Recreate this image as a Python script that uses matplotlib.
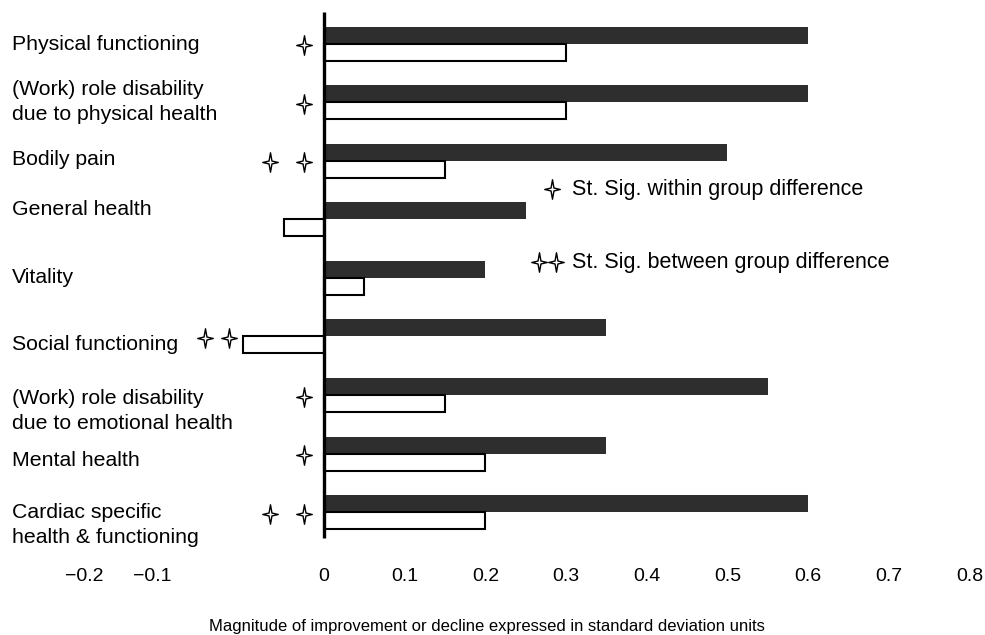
import matplotlib
matplotlib.use('Agg')
import matplotlib.pyplot as plt
from matplotlib.path import Path
from matplotlib import font_manager
import numpy as np

# Data
CATEGORIES = [
    'Physical functioning',
    '(Work) role disability\ndue to physical health',
    'Bodily pain',
    'General health',
    'Vitality',
    'Social functioning',
    '(Work) role disability\ndue to emotional health',
    'Mental health',
    'Cardiac specific\nhealth & functioning',
]
DARK_VALUES = [0.60, 0.60, 0.50, 0.25, 0.20, 0.35, 0.55, 0.35, 0.60]
WHITE_VALUES = [0.30, 0.30, 0.15, -0.05, 0.05, -0.10, 0.15, 0.20, 0.20]
STAR_COUNTS = [1, 1, 2, 0, 0, 2, 1, 1, 2]
TICK_VALUES = [-0.2975, -0.213, 0, 0.1, 0.2, 0.3, 0.4, 0.5, 0.6, 0.7, 0.8]
TICK_LABELS = ['\u22120.2', '\u22120.1', '0', '0.1', '0.2', '0.3', '0.4',
               '0.5', '0.6', '0.7', '0.8']
XLABEL = 'Magnitude of improvement or decline expressed in standard deviation units'
LEGEND_WITHIN = 'St. Sig. within group difference'
LEGEND_BETWEEN = 'St. Sig. between group difference'

# label vertical nudges (group units)
LABEL_SHIFT = [0.02, 0.0, -0.02, -0.17, 0.0, 0.14, 0.27, 0.12, 0.22]

installed = {f.name for f in font_manager.fontManager.ttflist}
MAIN_FONT = 'Liberation Sans'
NARROW_FONT = 'Liberation Sans Narrow' if 'Liberation Sans Narrow' in installed else 'Liberation Sans'

DARK = '#2e2e2e'

# four pointed star marker
STAR = Path([(0, 1), (0.15, 0.15), (0.8, 0), (0.15, -0.15), (0, -1),
             (-0.15, -0.15), (-0.8, 0), (-0.15, 0.15), (0, 1)],
            [Path.MOVETO] + [Path.LINETO] * 7 + [Path.CLOSEPOLY])


def star(ax, x, y):
    ax.plot([x], [y], marker=STAR, markersize=14, markerfacecolor='white',
            markeredgecolor='black', markeredgewidth=1.0, linestyle='none',
            clip_on=False)


fig = plt.figure(figsize=(9.85, 6.35), dpi=100)
ax = fig.add_axes([0, 0.142, 1, 0.85])

pos = np.arange(len(CATEGORIES))
bar_h = 0.29
ax.barh(pos - bar_h / 2, DARK_VALUES, height=bar_h, color=DARK, edgecolor='none')
ax.barh(pos + bar_h / 2, WHITE_VALUES, height=bar_h, color='white',
        edgecolor='black', linewidth=1.5)

ax.set_xlim(-0.4016, 0.8194)
ax.set_ylim(8.558, -0.657)
ax.vlines(0, -0.54, 8.44, color='black', linewidth=2.4)

# category labels
for i, name in enumerate(CATEGORIES):
    ax.text(0.012, pos[i] + LABEL_SHIFT[i], name, transform=ax.get_yaxis_transform(),
            ha='left', va='center', fontsize=15.3, family=MAIN_FONT,
            linespacing=1.38)

# significance stars
for i, n in enumerate(STAR_COUNTS):
    base = min(0, WHITE_VALUES[i])
    gap = 0.042 if base == 0 else 0.03
    first = 0.025 if base == 0 else 0.018
    for k in range(n):
        star(ax, base - first - k * gap, pos[i] + 0.03)

# legend text
star(ax, 0.283, 2.49)
ax.text(0.307, 2.49, LEGEND_WITHIN, ha='left', va='center', fontsize=15.5,
        family=MAIN_FONT)
star(ax, 0.267, 3.73)
star(ax, 0.287, 3.73)
ax.text(0.307, 3.73, LEGEND_BETWEEN, ha='left', va='center', fontsize=15.5,
        family=MAIN_FONT)

ax.set_xticks(TICK_VALUES)
ax.set_xticklabels(TICK_LABELS, fontsize=14, family=NARROW_FONT)
ax.tick_params(axis='x', length=0, pad=17)
ax.set_yticks([])
for spine in ax.spines.values():
    spine.set_visible(False)

fig.text(487 / 985, 1 - 627 / 635, XLABEL, ha='center', va='center',
         fontsize=12, family=NARROW_FONT)

fig.savefig('out.png', dpi=100)
